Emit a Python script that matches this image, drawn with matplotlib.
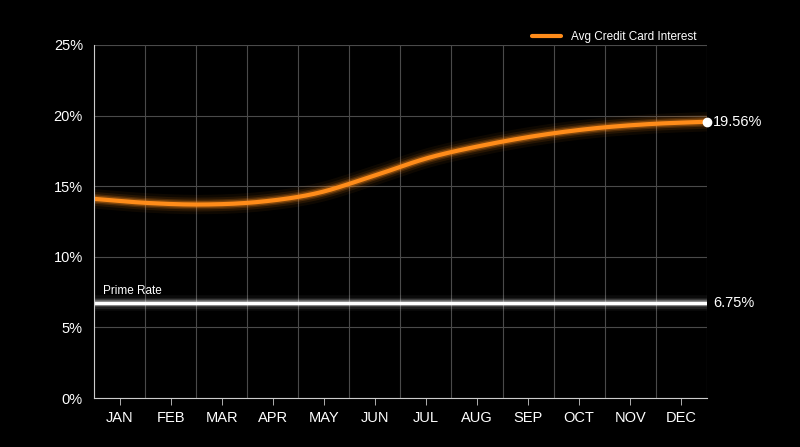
import numpy as np
import matplotlib
matplotlib.use("Agg")
import matplotlib.pyplot as plt
plt.rcParams['font.family'] = ['Liberation Sans', 'DejaVu Sans']

months = ["JAN","FEB","MAR","APR","MAY","JUN","JUL","AUG","SEP","OCT","NOV","DEC"]
credit = [14.1, 13.8, 13.7, 13.9, 14.5, 15.7, 17.0, 17.9, 18.6, 19.1, 19.4, 19.56]
prime = [6.75]*12

def catmull(x, y, n=20):
    x = np.asarray(x, float); y = np.asarray(y, float)
    px = np.concatenate([[2*x[0]-x[1]], x, [2*x[-1]-x[-2]]])
    py = np.concatenate([[2*y[0]-y[1]], y, [2*y[-1]-y[-2]]])
    xs, ys = [], []
    t = np.linspace(0, 1, n, endpoint=False)
    for i in range(1, len(px)-2):
        for arr, out in ((px, xs), (py, ys)):
            p0, p1, p2, p3 = arr[i-1], arr[i], arr[i+1], arr[i+2]
            out.extend(0.5*((2*p1) + (-p0+p2)*t + (2*p0-5*p1+4*p2-p3)*t**2 + (-p0+3*p1-3*p2+p3)*t**3))
    xs.append(x[-1]); ys.append(y[-1])
    return np.array(xs), np.array(ys)

fig = plt.figure(figsize=(8, 4.47), dpi=100, facecolor="black")
ax = fig.add_axes([0.1175, 0.1096, 0.766, 0.79], facecolor="black")
n = len(months)
xpos = np.arange(n) * n / (n-1)
sx, sy = catmull(xpos, credit)
orange = "#ff8c1a"
for lw, a in [(14, 0.06), (10, 0.1), (7, 0.18), (5, 0.3)]:
    ax.plot(sx, sy, color=orange, lw=lw, alpha=a, solid_capstyle="round")
    ax.plot(xpos, prime, color="white", lw=lw*0.8, alpha=a*0.8)
ax.plot(sx, sy, color=orange, lw=3, label="Avg Credit Card Interest", solid_capstyle="round")
ax.plot(xpos, prime, color="white", lw=2.5)
ax.plot([xpos[-1]], [credit[-1]], "o", color="white", ms=6, zorder=5, clip_on=False)
ax.text(xpos[-1]+0.12, credit[-1], f"{credit[-1]:.2f}%", color="white", va="center", fontsize=10.5)
ax.text(xpos[-1]+0.12, prime[-1], f"{prime[-1]:.2f}%", color="white", va="center", fontsize=10.5)
ax.text(0.18, prime[0]+0.4, "Prime Rate", color="white", fontsize=8.5, va="bottom")

ax.set_xlim(0, n)
ax.set_ylim(0, 25)
ax.set_xticks(np.arange(n+1), minor=False)
ax.set_xticklabels([])
ax.tick_params(axis="x", which="major", length=0)
ax.set_xticks(np.arange(n)+0.5, minor=True)
ax.set_xticklabels(months, minor=True)
ax.tick_params(axis="x", which="minor", colors="#cccccc", labelcolor="white", length=5, labelsize=10.5, pad=4)
ax.set_yticks(np.arange(0, 26, 5))
ax.set_yticklabels([f"{v}%" for v in range(0, 26, 5)])
ax.tick_params(axis="y", colors="#cccccc", labelcolor="white", length=0, labelsize=10.5, pad=8)
ax.grid(True, which="major", color="#4a4a4a", lw=0.8)
for s in ["top", "right"]:
    ax.spines[s].set_visible(False)
for s in ["left", "bottom"]:
    ax.spines[s].set_color("#cccccc")
leg = ax.legend(loc="upper right", bbox_to_anchor=(1.0, 1.07), frameon=False, fontsize=8.5, labelcolor="white", handlelength=2.5)
fig.savefig("out.png", facecolor="black")
